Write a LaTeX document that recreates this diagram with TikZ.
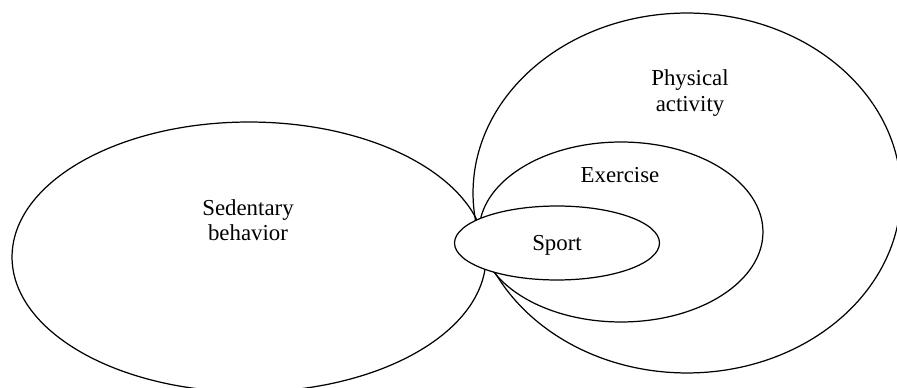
\documentclass[tikz,border=0pt]{standalone}
\usepackage{fontspec}
\setmainfont{Liberation Serif}
\usetikzlibrary{shapes.geometric,positioning}
\tikzset{
  zone/.style={ellipse, draw=black, line width=0.7pt, inner sep=0pt},
  lbl/.style={align=center, font=\fontsize{13}{14.5}\selectfont, inner sep=0pt},
}
\begin{document}
\begin{tikzpicture}[x=0.02cm, y=-0.02cm]
    \useasboundingbox (0,0) rectangle (897,388);
    \node[zone, minimum width=9.48cm, minimum height=5.4cm] (sed) at (249,257) {};
    \node[zone, minimum width=8.56cm, minimum height=7.2cm] (pa) at (687,193) {};
    \node[zone, minimum width=5.68cm, minimum height=3.6cm] (ex) at (621,232) {};
    \node[zone, minimum width=4.1cm, minimum height=1.48cm, fill=white] (sp) at (557,243) {};
    \node[lbl] (sedt) at (248,220) {Sedentary\\behavior};
    \node[lbl] (pat) at (690,93) {Physical\\activity};
    \node[lbl] (ext) at (620,175) {Exercise};
    \node[lbl] (spt) at (557,245) {Sport};
  \end{tikzpicture}
\end{document}
